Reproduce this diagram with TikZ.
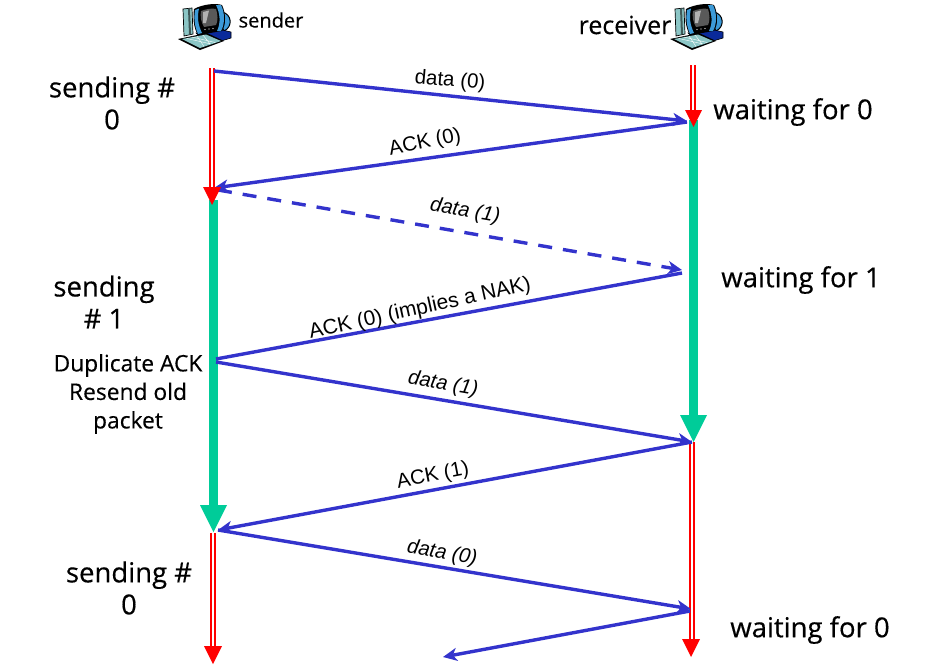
\documentclass[tikz,border=0pt]{standalone}
\usepackage{fontspec}
\setmainfont{Open Sans}
\newfontfamily\arialfont{Liberation Sans}
\usetikzlibrary{arrows.meta}
\definecolor{msgblue}{HTML}{3333CC}
\definecolor{timegreen}{HTML}{00CC99}
\definecolor{pcteal}{HTML}{8CC6C6}
\definecolor{pcblue}{HTML}{0A2A9A}
\definecolor{pclight}{HTML}{3C9AD8}
\tikzset{
  x=1pt,y=-1pt,
  msg/.style={draw=msgblue,line width=3.4pt,-{Stealth[length=14pt,width=13pt,inset=4pt]}},
  msgdash/.style={msg,dash pattern=on 14pt off 11pt},
  redshaft/.style={draw=red,line width=1.9pt,double=white,double distance=2.2pt},
  greenshaft/.style={draw=timegreen,line width=9pt},
  hand/.style={font=\fontsize{27.5}{32}\selectfont\addfontfeatures{FakeBold=0.4},align=center,text=black,inner sep=0pt},
  smallhand/.style={font=\fontsize{22.8}{28.5}\selectfont\addfontfeatures{FakeBold=0.3},align=center,text=black,inner sep=0pt},
  sendername/.style={font=\fontsize{20}{28}\selectfont\addfontfeatures{FakeBold=0.3},align=center,text=black,inner sep=0pt},
  receivername/.style={font=\fontsize{25}{28}\selectfont\addfontfeatures{FakeBold=0.3},align=center,text=black,inner sep=0pt},
  lab/.style={font=\arialfont\fontsize{20.5}{24}\selectfont,text=black,inner sep=0pt},
  labit/.style={font=\arialfont\itshape\fontsize{20.5}{24}\selectfont,text=black,inner sep=0pt},
  pc/.pic={
    % tower
    \fill[pcteal,draw=black,line width=.7pt] (5,6) -- (14,5) -- (15,31) -- (6,33) -- cycle;
    \fill[black!55!pcteal] (10,5.5) -- (12,5.5) -- (13,31) -- (11,31.5) -- cycle;
    % rear arc
    \fill[pclight,draw=black,line width=1pt] (44,9) .. controls (54,11) and (55,24) .. (46,28) -- (44,24) .. controls (47,22) and (47,16) .. (44,14) -- cycle;
    % base
    \fill[pcblue,draw=black,line width=.6pt] (18,30) -- (40,26) -- (53,29) -- (53,35) -- (30,42) -- cycle;
    % keyboard
    \fill[black] (0,36) -- (29,30) -- (46,38) -- (22,47) -- cycle;
    \fill[pcteal] (4,36) -- (28,31.5) -- (43,38) -- (22,45) -- cycle;
    \draw[white,line width=.4pt] (9,35.5) -- (33,41) (14,34) -- (37,39.5) (19,33) -- (26,43.5) (25,32) -- (32,41);
    % monitor
    \fill[black] (16,6) .. controls (25,1) and (38,0) .. (44,2) .. controls (48,10) and (48,22) .. (44,28) -- (20,32) .. controls (15,24) and (15,14) .. (16,6) -- cycle;
    \fill[pclight] (17,7) -- (21,5.5) .. controls (19,14) and (20,22) .. (24,30) -- (20,31) .. controls (16,22) and (16,14) .. (17,7) -- cycle;
    \fill[pclight] (38,2) -- (43,2) .. controls (47,10) and (47,21) .. (43,28) -- (39,28) .. controls (43,20) and (42,10) .. (38,2) -- cycle;
    \fill[black!65] (23,8) .. controls (28,6) and (34,5) .. (38,6) .. controls (40,12) and (40,18) .. (38,22) -- (26,24) .. controls (23,19) and (22,13) .. (23,8) -- cycle;
    \fill[black!30] (25,9) -- (31,7.5) -- (28,20) -- (25,20) -- cycle;
    \fill[white] (27,26.5) circle (.6) (31,26) circle (.6) (35,25.5) circle (.6);
  }
}
\begin{document}
\begin{tikzpicture}
\useasboundingbox (0,0) rectangle (933,670);
% time lines
\coordinate (sa0) at (212,68);   \coordinate (sa1) at (212,188);
\coordinate (sb0) at (213,200);  \coordinate (sb1) at (213,506);
\coordinate (sc0) at (213,533);  \coordinate (sc1) at (213,646);
\coordinate (ra0) at (693,65);   \coordinate (ra1) at (693,111);
\coordinate (rb0) at (693,120);  \coordinate (rb1) at (693,416);
\coordinate (rc0) at (692,442);  \coordinate (rc1) at (692,640);
\draw[greenshaft] (sb0) -- (sb1);
\draw[greenshaft] (rb0) -- (rb1);
\draw[redshaft] (sa0) -- (sa1);
\draw[redshaft] (sc0) -- (sc1);
\draw[redshaft] (ra0) -- (ra1);
\draw[redshaft] (rc0) -- (rc1);
% message end points
\coordinate (m1a) at (214,71);  \coordinate (m1b) at (687,121);
\coordinate (m2a) at (687,122); \coordinate (m2b) at (214,188);
\coordinate (m3a) at (218,190); \coordinate (m3b) at (682,270);
\coordinate (m4a) at (682,273); \coordinate (m4b) at (216,359);
\coordinate (m5a) at (216,362); \coordinate (m5b) at (692,442);
\coordinate (m6a) at (692,442); \coordinate (m6b) at (218,530);
\coordinate (m7a) at (218,530); \coordinate (m7b) at (691,609);
\coordinate (m8a) at (690,611); \coordinate (m8b) at (443,657);
\draw[msg] (m1a) -- (m1b);
\draw[msg] (m2a) -- (m2b);
\draw[msgdash] (m3a) -- (m3b);
\draw[msg,-] (m4a) -- (m4b);
\draw[msg] (m5a) -- (m5b);
\draw[msg] (m6a) -- (m6b);
\draw[msg] (m7a) -- (m7b);
\draw[msg] (m8a) -- (m8b);
% arrow heads of the time lines
\fill[red] (203,187) -- (221,187) -- (212,205) -- cycle;
\fill[red] (204,646) -- (222,646) -- (213,664) -- cycle;
\fill[red] (685,110) -- (702,110) -- (693.5,127) -- cycle;
\fill[red] (682,639) -- (700,639) -- (691,657) -- cycle;
\fill[timegreen] (200,505) -- (227,505) -- (213.5,532) -- cycle;
\fill[timegreen] (680,415) -- (707,415) -- (693.5,442) -- cycle;
% message labels
\node[lab,rotate=-5] (l1) at (450,81) {data (0)};
\node[lab,rotate=12] (l2) at (425,143) {ACK (0)};
\node[labit,rotate=-10] (l3) at (465,211) {data (1)};
\node[lab,rotate=12.5,font=\arialfont\fontsize{21}{24}\selectfont] (l4) at (420,309) {ACK (0) (implies a NAK)};
\node[labit,rotate=-10] (l5) at (443,384) {data (1)};
\node[lab,rotate=11] (l6) at (433,476) {ACK (1)};
\node[labit,rotate=-10] (l7) at (442,553) {data (0)};
% state labels
\node[hand] (t1) at (112,103) {sending \#\\0};
\node[hand] (t2) at (104,302) {sending\\\# 1};
\node[smallhand] (t3) at (128,394) {Duplicate ACK\\Resend old\\packet};
\node[hand] (t4) at (129,588) {sending \#\\0};
\node[hand] (t5) at (793,112) {waiting for 0};
\node[hand] (t6) at (801,280) {waiting for 1};
\node[hand] (t7) at (810,630) {waiting for 0};
\node[sendername] (snd) at (271,20) {sender};
\node[receivername] (rcv) at (625,25) {receiver};
\pic at (178,3) {pc};
\pic at (670,3) {pc};
\end{tikzpicture}
\end{document}
